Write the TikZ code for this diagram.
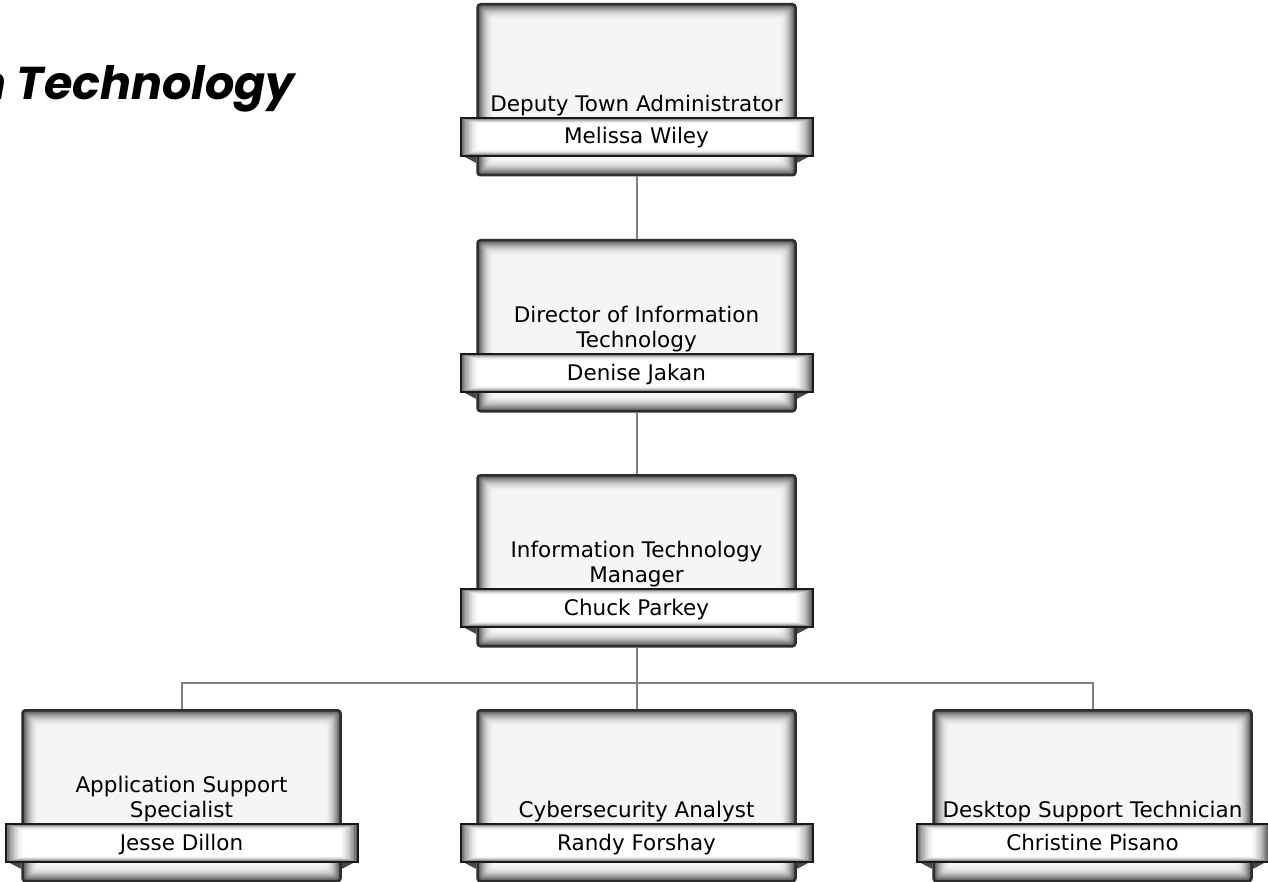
\documentclass[tikz,border=0pt]{standalone}
\usepackage{fontspec}
\setmainfont{DejaVu Sans}
\newfontfamily\titlefont{Poppins}
\begin{document}
\begin{tikzpicture}[x=1pt,y=-1pt,
  outerbox/.style={rectangle, minimum width=318pt, minimum height=171pt, inner sep=0pt,
    anchor=north, fill=black!70, rounded corners=3pt, draw=black!82, line width=2.5pt,
    path picture={
      \foreach \i in {0,...,16}{
        \pgfmathsetmacro{\c}{4+66*(1-\i/16)^2}
        \fill[black!\c, rounded corners=3pt]
          ([shift={(\i*1pt,\i*1pt)}]path picture bounding box.south west) rectangle ([shift={(-\i*1pt,-\i*1pt)}]path picture bounding box.north east);}
    }},
  namebar/.style={rectangle, minimum width=352pt, minimum height=38pt, inner sep=0pt,
    anchor=north, fill=black!60, draw=black!90, line width=2pt,
    path picture={
      \foreach \i in {0,...,12}{
        \pgfmathsetmacro{\c}{62*(1-\i/12)^2}
        \fill[black!\c]
          ([shift={(\i*1.6pt,\i*0.55pt)}]path picture bounding box.south west) rectangle ([shift={(-\i*1.6pt,-\i*0.55pt)}]path picture bounding box.north east);}
    }},
  roletext/.style={font=\fontsize{21.5}{25}\selectfont, align=center, inner sep=0pt, anchor=south},
  nametext/.style={font=\fontsize{21.5}{25}\selectfont, inner sep=0pt, anchor=base},
  link/.style={draw=black!50, line width=2pt}
]
\useasboundingbox (0,0) rectangle (1268,882);
\fill[white] (0,0) rectangle (1268,882);

% title
\node[font=\titlefont\bfseries\itshape\fontsize{46}{52}\selectfont, anchor=base east, inner sep=0pt] (title) at (295,100) {Information Technology};

% connectors
\coordinate (hub) at (636.5,683);

% boxes
\foreach \n/\x/\y in {1/636.5/3, 2/636.5/239, 3/636.5/474, 4/181.5/709, 5/636.5/709, 6/1092.5/709}{
  \node[outerbox] (b\n) at (\x,\y) {};
  \fill[black!72] ([xshift=-17pt,yshift=-151pt]b\n.north west) -- ([yshift=-151pt]b\n.north west) -- ([yshift=-160pt]b\n.north west) -- cycle;
  \fill[black!72] ([xshift=17pt,yshift=-151pt]b\n.north east) -- ([yshift=-151pt]b\n.north east) -- ([yshift=-160pt]b\n.north east) -- cycle;
  \node[namebar] (p\n) at ([yshift=-114pt]b\n.north) {};
}

\draw[link] (b1.south) -- (b2.north);
\draw[link] (b2.south) -- (b3.north);
\draw[link] (b3.south) -- (hub);
\draw[link] (b4.north) |- (hub) -| (b6.north);
\draw[link] (hub) -- (b5.north);

% role texts
\node[roletext] (t1) at ([yshift=1pt]p1.north) {Deputy Town Administrator};
\node[roletext] (t2) at ([yshift=1pt]p2.north) {Director of Information\\Technology};
\node[roletext] (t3) at ([yshift=1pt]p3.north) {Information Technology\\Manager};
\node[roletext] (t4) at ([yshift=1pt]p4.north) {Application Support\\Specialist};
\node[roletext] (t5) at ([yshift=1pt]p5.north) {Cybersecurity Analyst};
\node[roletext] (t6) at ([yshift=1pt]p6.north) {Desktop Support Technician};

% names
\node[nametext] (n1) at ([yshift=-27pt]p1.north) {Melissa Wiley};
\node[nametext] (n2) at ([yshift=-27pt]p2.north) {Denise Jakan};
\node[nametext] (n3) at ([yshift=-27pt]p3.north) {Chuck Parkey};
\node[nametext] (n4) at ([yshift=-27pt]p4.north) {Jesse Dillon};
\node[nametext] (n5) at ([yshift=-27pt]p5.north) {Randy Forshay};
\node[nametext] (n6) at ([yshift=-27pt]p6.north) {Christine Pisano};
\end{tikzpicture}
\end{document}
